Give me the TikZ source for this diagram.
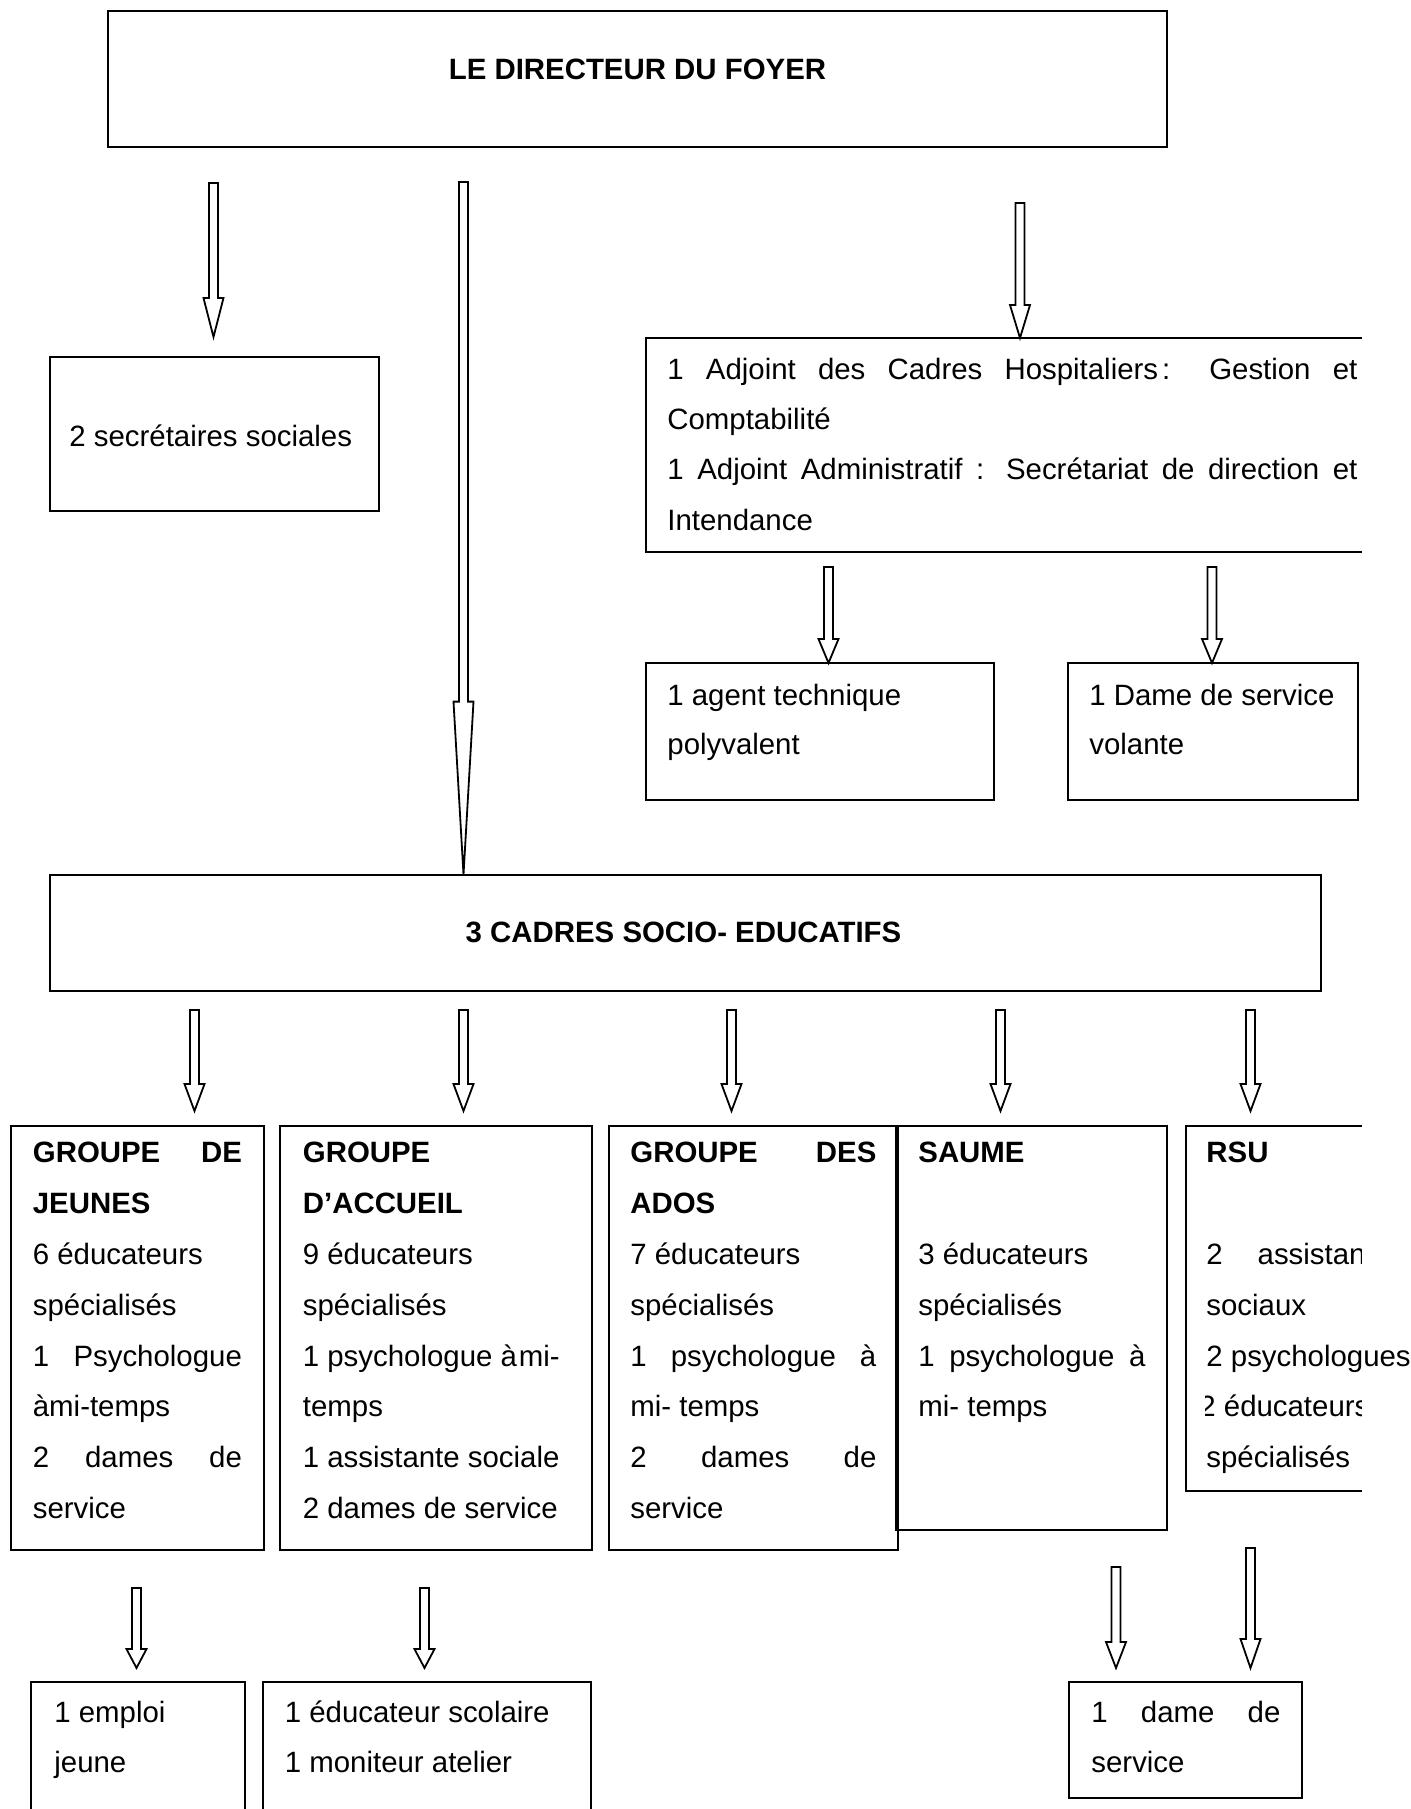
\documentclass[tikz,border=0pt]{standalone}
\usepackage{fontspec}
\setmainfont{Liberation Sans}
\usetikzlibrary{calc,fit}
\newcounter{tlc}
\newcommand\tl[3]{\stepcounter{tlc}\node[txt] (tl\arabic{tlc}) at (#1,#2) {#3};}
\newcommand\tlb[3]{\stepcounter{tlc}\node[txt,font=\fontsize{14.7}{17}\selectfont\bfseries] (tl\arabic{tlc}) at (#1,#2) {#3};}
\newcommand\J[2]{\makebox[\dimexpr #1pt/2\relax][s]{#2}}
\newcommand\bx[6][box]{\node[#1, fit={(#3,#4) (#5,#6)}] (#2) {};}
% #1 start coordinate, #2 target node, #3 gap, #4 head length
\newcommand\harrow[4]{%
  \coordinate (#1tip) at ($(#1 |- #2.north)+(0,-#3)$);
  \draw[arr] ($(#1)+(-4.5,0)$) -- ($(#1tip)+(-4.5,-#4)$) -- ($(#1tip)+(-10,-#4)$) -- (#1tip)
     -- ($(#1tip)+(10,-#4)$) -- ($(#1tip)+(4.5,-#4)$) -- ($(#1)+(4.5,0)$) -- cycle;}
\tikzset{
  box/.style={draw, line width=1pt, inner sep=0pt, outer sep=0pt},
  openbox/.style={draw=none, inner sep=0pt, outer sep=0pt},
  edge/.style={line width=1pt},
  arr/.style={draw, line width=0.9pt, fill=white, line join=miter},
  txt/.style={anchor=base west, inner sep=0pt, font=\fontsize{14.7}{17}\selectfont},
}
\begin{document}
\begin{tikzpicture}[x=0.5pt, y=-0.5pt]
\useasboundingbox[fill=white] (0,0) rectangle (1410,1809);

% ---------- boxes ----------
\bx{dir}{107.5}{11}{1167}{147}
\bx{sec}{49.5}{357}{378.5}{511}
\bx[openbox]{adj}{646}{338}{1361.5}{551.5}
\draw[edge] (adj.north east) -- (adj.north west) -- (adj.south west) -- (adj.south east);
\bx{agt}{646}{663}{994}{800}
\bx{dsv}{1068}{663}{1358}{800}
\bx{cad}{49.5}{874.6}{1321}{991}
\bx{gj}{11}{1126}{264}{1549.6}
\bx{ga}{280}{1126}{591.5}{1549.6}
\bx{gd}{608.5}{1126}{898}{1549.6}
\bx{sa}{896}{1126}{1167}{1530}
\bx[openbox]{rsu}{1186}{1126}{1361.5}{1491}
\draw[edge] (rsu.north east) -- (rsu.north west) -- (rsu.south west) -- (rsu.south east);
\bx[openbox]{emp}{31}{1682}{244.5}{1809}
\draw[edge] (emp.south west) -- (emp.north west) -- (emp.north east) -- (emp.south east);
\bx[openbox]{edu}{263}{1682}{591}{1809}
\draw[edge] (edu.south west) -- (edu.north west) -- (edu.north east) -- (edu.south east);
\bx{dms}{1069}{1682}{1301.5}{1798}

% ---------- arrows ----------
\coordinate (a1) at (213.5,183);
\coordinate (a2) at (463.5,182);
\coordinate (a3) at (1020,203);
\coordinate (a4) at (828.5,567);
\coordinate (a5) at (1212,567);
\coordinate (b1) at (194.5,1010);
\coordinate (b2) at (463.5,1010);
\coordinate (b3) at (731.5,1010);
\coordinate (b4) at (1000.5,1010);
\coordinate (b5) at (1250.5,1010);
\coordinate (c1) at (136.5,1588);
\coordinate (c2) at (424.5,1588);
\coordinate (c3) at (1116,1567);
\coordinate (c4) at (1250.5,1548);
\harrow{a1}{sec}{20}{39}
\harrow{a2}{cad}{0}{173}
\harrow{a3}{adj}{0}{33}
\harrow{a4}{agt}{0}{24}
\harrow{a5}{dsv}{0}{24}
\harrow{b1}{gj}{15}{27}
\harrow{b2}{ga}{15}{27}
\harrow{b3}{gd}{15}{27}
\harrow{b4}{sa}{15}{27}
\harrow{b5}{rsu}{15}{27}
\harrow{c1}{emp}{14}{19}
\harrow{c2}{edu}{14}{19}
\harrow{c3}{dms}{14}{26}
\harrow{c4}{dms}{14}{29}

% ---------- texts ----------
\node[txt, font=\fontsize{14.7}{17}\selectfont\bfseries, anchor=base] (ttl) at (637.5,79.5) {LE DIRECTEUR DU FOYER};
\node[txt, font=\fontsize{14.7}{17}\selectfont\bfseries, anchor=base] (cadt) at (683.5,942.5) {3 CADRES SOCIO- EDUCATIFS};

\tl{69}{446.5}{2 secrétaires sociales}

\tl{667}{379}{\J{690}{1 Adjoint des Cadres Hospitaliers\kern2pt: Gestion et}}
\tl{667}{429}{Comptabilité}
\tl{667}{479}{\J{690}{1 Adjoint Administratif : Secrétariat de direction et}}
\tl{667}{530}{Intendance}

\tl{667}{705}{1 agent technique}
\tl{667}{754.5}{polyvalent}
\tl{1089}{705}{1 Dame de service}
\tl{1089}{754.5}{volante}

% GROUPE DE JEUNES
\tlb{32.5}{1162}{\J{209}{GROUPE DE}}
\tlb{32.5}{1213}{JEUNES}
\tl{32.5}{1264}{6 éducateurs}
\tl{32.5}{1315}{spécialisés}
\tl{32.5}{1366}{\J{209}{1 Psychologue}}
\tl{32.5}{1416.5}{àmi-temps}
\tl{32.5}{1467}{\J{209}{2 dames de}}
\tl{32.5}{1518}{service}

% GROUPE D'ACCUEIL
\tlb{302.5}{1162}{GROUPE}
\tlb{302.5}{1213}{D’ACCUEIL}
\tl{302.5}{1264}{9 éducateurs}
\tl{302.5}{1315}{spécialisés}
\tl{302.5}{1366}{1 psychologue à\kern1pt mi-}
\tl{302.5}{1416.5}{temps}
\tl{302.5}{1467}{1 assistante sociale}
\tl{302.5}{1518}{2 dames de service}

% GROUPE DES ADOS
\tlb{630}{1162}{\J{246}{GROUPE DES}}
\tlb{630}{1213}{ADOS}
\tl{630}{1264}{7 éducateurs}
\tl{630}{1315}{spécialisés}
\tl{630}{1366}{\J{246}{1 psychologue à}}
\tl{630}{1416.5}{mi- temps}
\tl{630}{1467}{\J{246}{2 dames de}}
\tl{630}{1518}{service}

% SAUME
\tlb{918}{1162}{SAUME}
\tl{918}{1264}{3 éducateurs}
\tl{918}{1315}{spécialisés}
\tl{918}{1366}{\J{227}{1 psychologue à}}
\tl{918}{1416.5}{mi- temps}

% RSU
\tlb{1206}{1162}{RSU}
\begin{scope}
\clip (1190,1230) rectangle (1361,1280);
\tl{1206}{1264}{\J{182}{2 assistants}}
\end{scope}
\tl{1206}{1315}{sociaux}
\tl{1206}{1366}{2 psychologues}
\begin{scope}
\clip (1205,1380) rectangle (1361,1432);
\tl{1199}{1416.5}{2 éducateurs}
\end{scope}
\tl{1206}{1467}{spécialisés}

% bottom boxes
\tl{54}{1722.5}{1 emploi}
\tl{54}{1772.5}{jeune}
\tl{284.5}{1722.5}{1 éducateur scolaire}
\tl{284.5}{1772.5}{1 moniteur atelier}
\tl{1091}{1722.5}{\J{189}{1 dame de}}
\tl{1091}{1772.5}{service}
\end{tikzpicture}
\end{document}
